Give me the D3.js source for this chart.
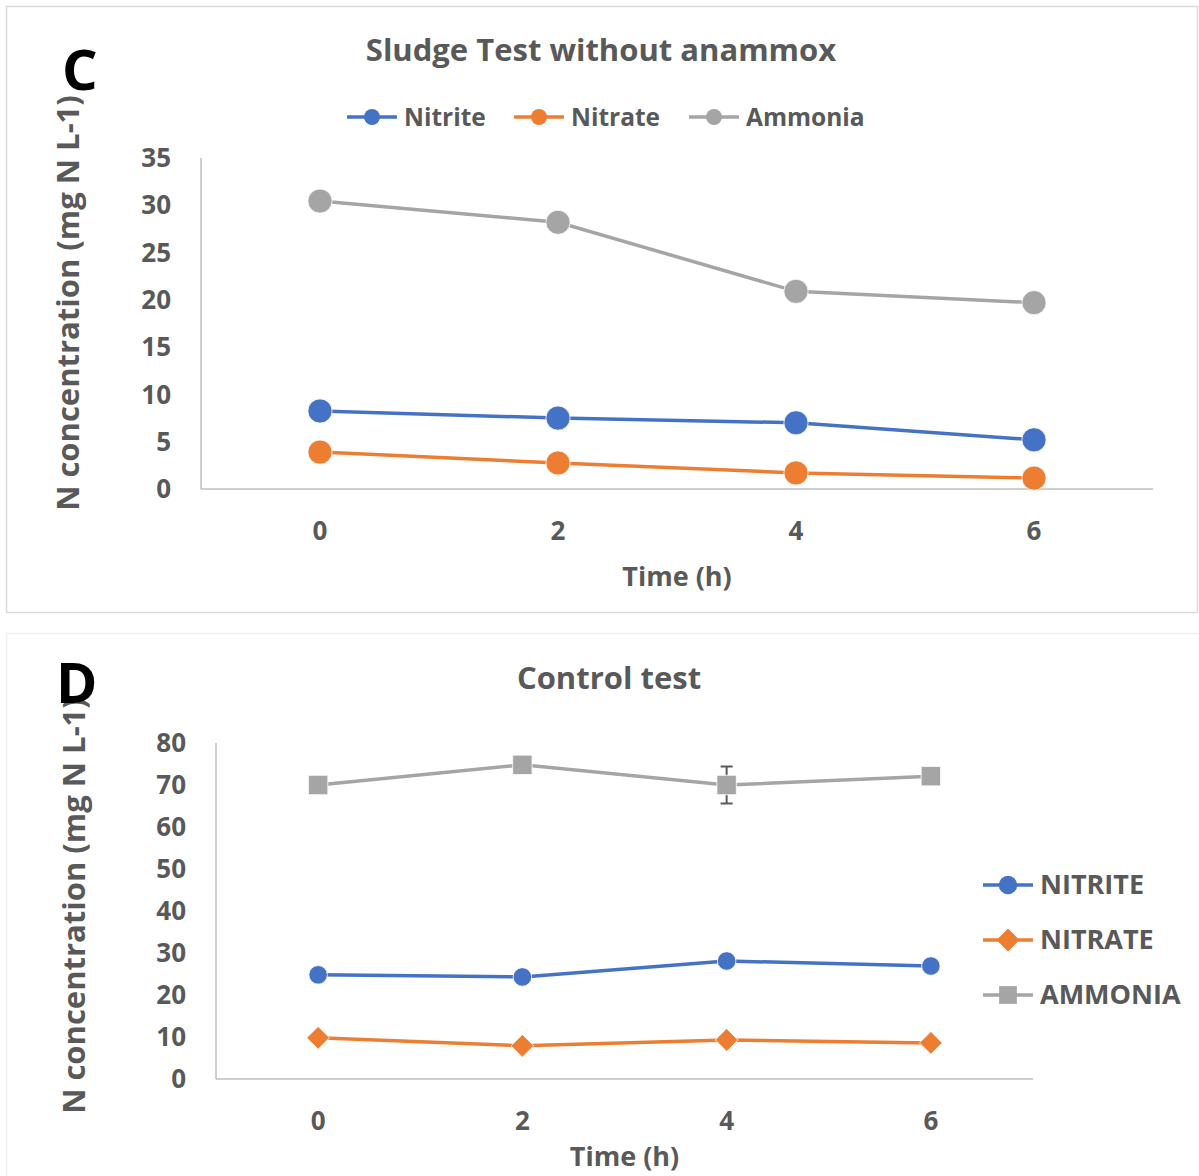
<!DOCTYPE html>
<html>
<head>
<meta charset="utf-8">
<script src="https://cdn.jsdelivr.net/npm/d3@7"></script>
<style>
  body { margin: 0; background: #fff; }
  svg text { font-family: "Open Sans", sans-serif; font-weight: bold; }
</style>
</head>
<body>
<script>
// time points (h)
var times = [0, 2, 4, 6];

// panel C - sludge test without anammox
var nitriteC = [8.25, 7.5, 7.0, 5.2];
var nitrateC = [3.9, 2.75, 1.7, 1.15];
var ammoniaC = [30.45, 28.2, 20.9, 19.7];
var ticksC = [0, 5, 10, 15, 20, 25, 30, 35];

// panel D - control test
var nitriteD = [24.8, 24.3, 28.1, 26.9];
var nitrateD = [9.8, 7.9, 9.3, 8.6];
var ammoniaD = [70, 74.8, 70, 72.1];
var ammoniaDerr = [0, 0, 4.4, 0];
var ticksD = [0, 10, 20, 30, 40, 50, 60, 70, 80];

var blue = '#4472C4', orange = '#ED7D31', grey = '#A5A5A5', txt = '#595959';

var svg = d3.select('body').append('svg')
  .attr('width', 1199)
  .attr('height', 1176);

// panel frames
svg.append('rect').attr('x', 6.5).attr('y', 6.5).attr('width', 1191).attr('height', 606)
  .attr('fill', 'none').attr('stroke', '#d9d9d9').attr('stroke-width', 1.5);
svg.append('rect').attr('x', 6.5).attr('y', 633.5).attr('width', 1200).attr('height', 600)
  .attr('fill', 'none').attr('stroke', '#eef0f4').attr('stroke-width', 1.5);

function symbolFor(kind, size) {
  if (kind == 'circle') return d3.symbol(d3.symbolCircle, size)();
  if (kind == 'diamond') return d3.symbol(d3.symbolDiamond2, size)();
  return d3.symbol(d3.symbolSquare2, size)();
}

function drawPanel(p) {
  var g = svg.append('g');
  var x = d3.scalePoint().domain(times).range([p.left, p.right]).padding(0.5);
  var y = d3.scaleLinear().domain([0, p.ymax]).range([p.bottom, p.top]);

  // axes
  g.append('line').attr('x1', p.left).attr('x2', p.left).attr('y1', p.top).attr('y2', p.bottom)
    .attr('stroke', '#bfbfbf').attr('stroke-width', 1.5);
  g.append('line').attr('x1', p.left).attr('x2', p.right).attr('y1', p.bottom).attr('y2', p.bottom)
    .attr('stroke', '#bfbfbf').attr('stroke-width', 1.5);

  g.selectAll('.yt').data(p.ticks).enter().append('text')
    .attr('x', p.left - 30).attr('y', function(d) { return y(d); })
    .attr('dy', '0.35em').attr('text-anchor', 'end')
    .attr('font-size', 26).attr('fill', txt)
    .text(function(d) { return d; });

  g.selectAll('.xt').data(times).enter().append('text')
    .attr('x', function(d) { return x(d); }).attr('y', p.bottom + 42)
    .attr('dy', '0.35em').attr('text-anchor', 'middle')
    .attr('font-size', 26).attr('fill', txt)
    .text(function(d) { return d; });

  g.append('text').attr('x', (p.left + p.right) / 2).attr('y', p.bottom + p.xTitleDy)
    .attr('text-anchor', 'middle').attr('dy', '0.35em')
    .attr('font-size', 27).attr('fill', txt).text('Time (h)');

  g.append('text')
    .attr('transform', 'translate(' + p.yTitleX + ',' + p.yTitleY + ') rotate(-90)')
    .attr('text-anchor', 'middle').attr('dy', '0.35em')
    .attr('font-size', 31).attr('fill', txt).text('N concentration (mg N L-1)');

  g.append('text').attr('x', p.titleX).attr('y', p.titleY)
    .attr('text-anchor', 'middle').attr('dy', '0.35em')
    .attr('font-size', 31).attr('fill', txt).text(p.title);

  g.append('text').attr('x', p.letterX).attr('y', p.letterY)
    .attr('dy', '0.35em').attr('font-size', 56).attr('fill', '#000')
    .text(p.letter);

  var line = d3.line()
    .x(function(d, i) { return x(times[i]); })
    .y(function(d) { return y(d); });

  p.series.forEach(function(s) {
    g.append('path').datum(s.values).attr('d', line)
      .attr('fill', 'none').attr('stroke', s.color).attr('stroke-width', 3.5);
    if (s.err) {
      s.values.forEach(function(v, i) {
        if (!s.err[i]) return;
        var cx = x(times[i]);
        var eg = g.append('g').attr('stroke', txt).attr('stroke-width', 2);
        eg.append('line').attr('x1', cx).attr('x2', cx).attr('y1', y(v + s.err[i])).attr('y2', y(v - s.err[i]));
        eg.append('line').attr('x1', cx - 6).attr('x2', cx + 6).attr('y1', y(v + s.err[i])).attr('y2', y(v + s.err[i]));
        eg.append('line').attr('x1', cx - 6).attr('x2', cx + 6).attr('y1', y(v - s.err[i])).attr('y2', y(v - s.err[i]));
      });
    }
    g.selectAll(null).data(s.values).enter().append('path')
      .attr('d', symbolFor(s.shape, s.size))
      .attr('transform', function(d, i) { return 'translate(' + x(times[i]) + ',' + y(d) + ')'; })
      .attr('fill', s.color).attr('stroke', '#fff').attr('stroke-width', 0.8);

    // legend entry
    var lg = g.append('g').attr('transform', 'translate(' + s.lx + ',' + s.ly + ')');
    lg.append('line').attr('x1', 0).attr('x2', 50).attr('stroke', s.color).attr('stroke-width', 3.5);
    lg.append('path').attr('d', symbolFor(s.shape, s.legendSize))
      .attr('transform', 'translate(25,0)').attr('fill', s.color);
    lg.append('text').attr('x', 57).attr('dy', '0.35em')
      .attr('font-size', p.legendFont).attr('fill', txt).text(s.name);
  });
}

drawPanel({
  left: 201, right: 1153, top: 158, bottom: 489, ymax: 35, ticks: ticksC,
  title: 'Sludge Test without anammox', titleX: 601, titleY: 50,
  letter: 'C', letterX: 62, letterY: 70,
  yTitleX: 68, yTitleY: 303, xTitleDy: 88, legendFont: 24.5,
  series: [
    {name: 'Nitrite', values: nitriteC, color: blue, shape: 'circle', size: 460, legendSize: 200, lx: 347, ly: 117},
    {name: 'Nitrate', values: nitrateC, color: orange, shape: 'circle', size: 460, legendSize: 200, lx: 514, ly: 117},
    {name: 'Ammonia', values: ammoniaC, color: grey, shape: 'circle', size: 460, legendSize: 200, lx: 689, ly: 117}
  ]
});

drawPanel({
  left: 216, right: 1033, top: 743, bottom: 1079, ymax: 80, ticks: ticksD,
  title: 'Control test', titleX: 609, titleY: 678,
  letter: 'D', letterX: 56, letterY: 683,
  yTitleX: 74, yTitleY: 906, xTitleDy: 78, legendFont: 27,
  series: [
    {name: 'NITRITE', values: nitriteD, color: blue, shape: 'circle', size: 270, legendSize: 270, lx: 983, ly: 885},
    {name: 'NITRATE', values: nitrateD, color: orange, shape: 'diamond', size: 330, legendSize: 330, lx: 983, ly: 940},
    {name: 'AMMONIA', values: ammoniaD, err: ammoniaDerr, color: grey, shape: 'square', size: 480, legendSize: 400, lx: 983, ly: 995}
  ]
});
</script>
</body>
</html>
